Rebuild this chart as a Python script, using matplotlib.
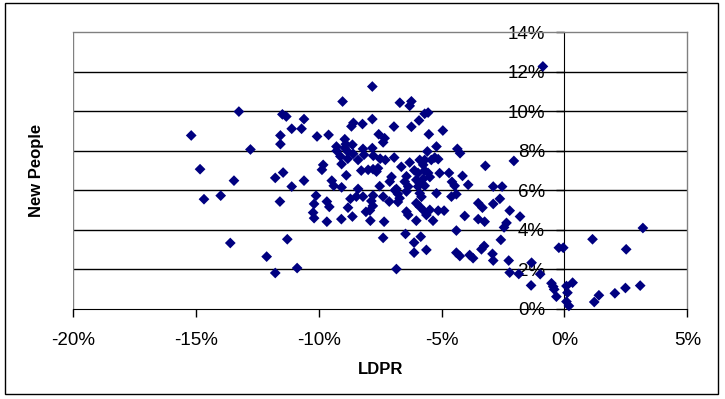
import matplotlib
matplotlib.use("Agg")
from matplotlib import pyplot as plt
from matplotlib.patches import Rectangle

# LDPR change (%) vs New People vote (%)
ldpr = [
	-15.19, -14.83, -14.67, -13.99, -13.60, -13.45, -13.25, -12.78, -12.12, -11.77,
	-11.77, -11.58, -11.56, -11.56, -11.48, -11.32, -11.45, -11.28, -11.10, -11.10,
	-10.88, -10.70, -10.60, -10.60, -10.07, -9.60, -9.03, -9.82, -9.87, -10.11,
	-10.19, -10.23, -10.19, -9.67, -9.57, -9.67, -9.47, -9.39, -9.07, -8.88,
	-9.07, -9.12, -8.82, -9.28, -8.94, -9.27, -8.81, -8.94, -8.90, -8.63,
	-8.60, -8.20, -8.67, -8.59, -8.22, -7.82, -7.82, -6.70, -6.94, -7.56,
	-7.32, -7.38, -7.82, -8.16, -7.78, -8.40, -7.50, -7.29, -6.93, -8.27,
	-7.99, -7.79, -7.59, -7.65, -8.40, -7.52, -7.04, -7.11, -6.84, -8.71,
	-8.47, -8.20, -7.79, -7.38, -7.13, -7.86, -7.80, -7.92, -8.08, -8.81,
	-8.63, -9.08, -7.90, -7.34, -6.90, -6.78, -6.71, -6.78, -7.38, -6.84,
	-6.23, -6.30, -5.69, -5.55, -5.92, -6.23, -5.52, -4.95, -5.21, -5.58,
	-4.36, -4.25, -3.22, -2.06, -6.30, -5.89, -5.69, -5.42, -5.28, -5.14,
	-5.75, -6.64, -6.11, -5.96, -5.69, -5.55, -6.43, -6.50, -6.03, -5.75,
	-5.48, -5.89, -5.96, -6.36, -5.69, -5.08, -4.70, -4.15, -4.58, -4.47,
	-3.92, -2.90, -2.54, -5.89, -5.21, -4.60, -4.40, -2.63, -2.90, -3.34,
	-2.23, -1.81, -4.06, -3.51, -3.25, -2.36, -2.46, -6.03, -5.89, -6.43,
	-6.36, -5.69, -5.62, -5.48, -5.14, -4.90, -6.03, -5.35, -3.51, -5.82,
	-6.43, -4.40, -6.47, -5.85, -6.12, -6.12, -5.62, -4.40, -4.26, -3.86,
	-3.72, -3.38, -3.27, -2.93, -2.90, -2.59, -2.27, -2.23, -1.86, -1.34,
	-0.99, -1.36, -0.53, -0.46, -0.42, -0.33, -0.88, -0.23, -0.05, 0.08,
	0.12, 0.08, 0.18, 0.33, 1.14, 1.21, 1.40, 2.05, 2.48, 2.51,
	3.08, 3.19,
]
new_people = [
	8.77, 7.06, 5.54, 5.72, 3.32, 6.48, 9.98, 8.06, 2.63, 6.62,
	1.80, 5.42, 8.77, 8.33, 9.84, 9.73, 6.89, 3.51, 9.11, 6.18,
	2.05, 9.11, 9.60, 6.48, 8.72, 8.80, 10.49, 7.28, 7.03, 5.72,
	5.30, 4.86, 4.58, 5.42, 5.15, 4.40, 6.48, 6.22, 6.14, 6.75,
	7.32, 7.71, 7.59, 8.21, 8.14, 7.99, 7.94, 8.58, 8.33, 8.30,
	7.84, 8.09, 9.23, 9.41, 9.35, 9.60, 11.25, 10.43, 9.22, 8.83,
	8.63, 8.42, 8.13, 7.79, 7.74, 7.53, 7.59, 7.53, 7.65, 6.99,
	7.03, 7.06, 7.11, 6.94, 6.06, 6.20, 6.67, 6.43, 6.06, 5.56,
	5.67, 5.67, 5.73, 5.67, 5.42, 5.45, 5.20, 4.97, 4.90, 5.11,
	4.66, 4.53, 4.45, 4.40, 5.99, 5.81, 5.59, 5.40, 3.58, 2.00,
	10.50, 10.27, 9.87, 9.93, 9.53, 9.21, 8.83, 9.02, 8.21, 7.96,
	8.09, 7.87, 7.23, 7.48, 7.40, 7.53, 7.53, 7.53, 7.65, 7.57,
	7.28, 7.18, 7.00, 6.87, 6.99, 6.87, 6.70, 6.43, 6.52, 6.57,
	6.66, 6.35, 6.18, 6.18, 6.22, 6.86, 6.87, 6.72, 6.42, 6.22,
	6.27, 6.18, 6.18, 5.84, 5.84, 5.67, 5.79, 5.56, 5.30, 5.11,
	4.96, 4.66, 4.69, 4.53, 4.40, 4.34, 4.11, 5.34, 5.16, 4.91,
	4.74, 4.91, 4.74, 5.00, 4.96, 4.96, 4.45, 4.45, 5.34, 5.66,
	5.93, 3.95, 3.78, 3.64, 3.34, 2.83, 2.97, 2.83, 2.66, 2.71,
	2.55, 3.00, 3.17, 2.77, 2.43, 3.48, 2.43, 1.82, 1.75, 2.32,
	1.74, 1.17, 1.28, 1.11, 0.97, 0.60, 12.27, 3.08, 3.08, 1.14,
	0.80, 0.35, 0.13, 1.31, 3.51, 0.33, 0.67, 0.77, 1.04, 3.00,
	1.16, 4.08,
]

x_ticks = [-20, -15, -10, -5, 0, 5]
y_ticks = [0, 2, 4, 6, 8, 10, 12, 14]


def main():
	plt.rcParams['font.family'] = ['Liberation Sans', 'DejaVu Sans']

	fig = plt.figure(figsize=(7.25, 3.99), dpi=100)
	ax = fig.add_axes([0.1007, 0.2268, 0.8474, 0.6923])

	# cornice esterna del grafico
	fig.patches.append(Rectangle((5 / 725, 5 / 399), 713 / 725, 391 / 399,
		transform=fig.transFigure, fill=False, edgecolor='black', lw=1))

	ax.set_xlim(x_ticks[0], x_ticks[-1])
	ax.set_ylim(y_ticks[0], y_ticks[-1])

	# griglia orizzontale nera
	for y in y_ticks[1:-1]:
		ax.axhline(y, color='black', lw=1, zorder=1)

	ax.scatter(ldpr, new_people, marker='D', s=30, color='#000080',
		edgecolors='none', zorder=3, clip_on=False)

	# bordi dell'area del grafico
	for side in ['top', 'right']:
		ax.spines[side].set_color('#808080')
		ax.spines[side].set_linewidth(1)
	ax.axvline(x_ticks[0], color='#808080', lw=1)
	ax.spines['bottom'].set_color('black')
	ax.spines['left'].set_position(('data', 0))
	ax.spines['left'].set_color('black')

	ax.set_xticks(x_ticks)
	ax.set_xticklabels(['%d%%' % v for v in x_ticks])
	ax.set_yticks(y_ticks)
	ax.set_yticklabels(['%d%%' % v for v in y_ticks])
	ax.tick_params(axis='x', direction='out', length=6, width=1, pad=11, labelsize=13.5)
	ax.tick_params(axis='y', direction='out', length=6, width=1, pad=8, labelsize=13.5)

	ax.set_xlabel('LDPR', fontsize=12, fontweight='bold', labelpad=9)
	# etichetta verticale a sinistra, fuori dall'asse spostato
	fig.text(36 / 725, 0.2268 + 0.6923 / 2, 'New People', rotation=90,
		ha='center', va='center', fontsize=12, fontweight='bold')

	fig.savefig('out.png', dpi=100)


if __name__ == "__main__":
	main()
